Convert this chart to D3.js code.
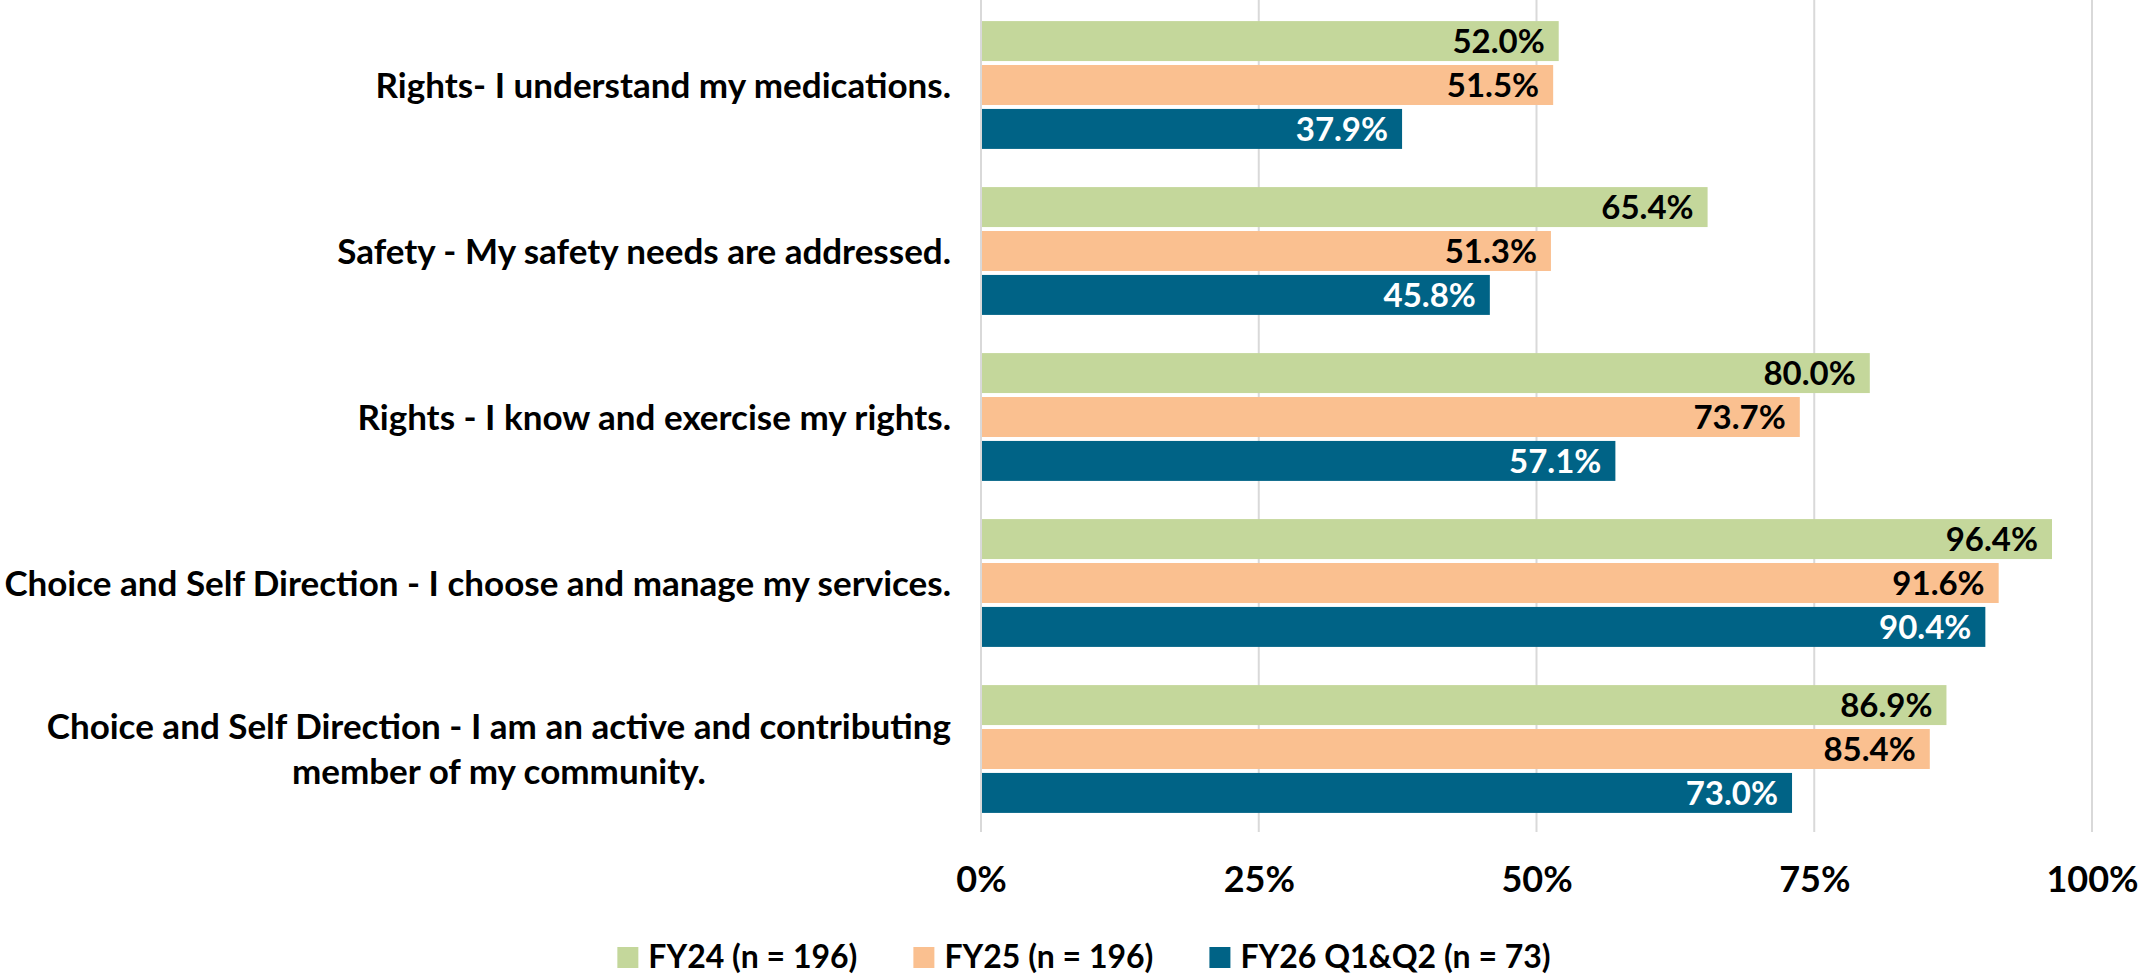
<!DOCTYPE html>
<html>
<head>
<meta charset="utf-8">
<script src="https://cdn.jsdelivr.net/npm/d3@7"></script>
<style>
  html, body { margin: 0; padding: 0; background: #fff; }
  #chart { width: 2139px; height: 976px; }
  text { font-family: Lato, "Open Sans", sans-serif; font-weight: bold; }
</style>
</head>
<body>
<div id="chart"></div>
<script>
const categories = [
  ["Rights- I understand my medications."],
  ["Safety - My safety needs are addressed."],
  ["Rights - I know and exercise my rights."],
  ["Choice and Self Direction - I choose and manage my services."],
  ["Choice and Self Direction - I am an active and contributing", "member of my community."]
];
const seriesNames = ["FY24 (n = 196)", "FY25 (n = 196)", "FY26 Q1&Q2 (n = 73)"];
const fy24 = [0.520, 0.654, 0.800, 0.964, 0.869];
const fy25 = [0.515, 0.513, 0.737, 0.916, 0.854];
const fy26 = [0.379, 0.458, 0.571, 0.904, 0.730];
const tickValues = [0, 0.25, 0.5, 0.75, 1];

const seriesValues = [fy24, fy25, fy26];
const colors = ["#C4D79B", "#FAC090", "#006386"];
const labelColors = ["#000", "#000", "#fff"];

const width = 2139, height = 976;

const svg = d3.select("#chart").append("svg")
  .attr("width", width)
  .attr("height", height)
  .attr("viewBox", [0, 0, width, height]);

const x = d3.scaleLinear().domain([0, 1]).range([981, 2092]);

const y0 = d3.scaleBand()
  .domain(d3.range(categories.length))
  .range([2, 832])
  .paddingInner(0.23)
  .paddingOuter(0.115);

const y1 = d3.scaleBand()
  .domain(d3.range(seriesNames.length))
  .range([0, y0.bandwidth()])
  .paddingInner(0.09);

// gridlines
svg.append("g")
  .selectAll("line")
  .data(tickValues)
  .join("line")
  .attr("x1", d => x(d))
  .attr("x2", d => x(d))
  .attr("y1", 0)
  .attr("y2", 832)
  .attr("stroke", "#d9d9d9")
  .attr("stroke-width", 2);

// bars
const rows = [];
categories.forEach((c, i) => {
  seriesValues.forEach((vals, s) => rows.push({ cat: i, s: s, v: vals[i] }));
});

const groups = svg.append("g");
groups.selectAll("rect")
  .data(rows)
  .join("rect")
  .attr("x", x(0) + 1)
  .attr("y", d => y0(d.cat) + y1(d.s))
  .attr("width", d => x(d.v) - x(0) - 1)
  .attr("height", y1.bandwidth())
  .attr("fill", d => colors[d.s]);

groups.selectAll("text")
  .data(rows)
  .join("text")
  .attr("x", d => x(d.v) - 14)
  .attr("y", d => y0(d.cat) + y1(d.s) + y1.bandwidth() / 2)
  .attr("dy", "0.36em")
  .attr("text-anchor", "end")
  .attr("font-size", 33)
  .attr("fill", d => labelColors[d.s])
  .text(d => d3.format(".1%")(d.v));

// x axis tick labels
const xAxis = d3.axisBottom(x)
  .tickValues(tickValues)
  .tickFormat(d3.format(".0%"))
  .tickSize(0)
  .tickPadding(0);

const ax = svg.append("g")
  .attr("transform", "translate(0,866)")
  .call(xAxis);
ax.select(".domain").remove();
ax.selectAll("text")
  .attr("font-size", 36)
  .attr("font-family", "Lato, sans-serif")
  .attr("font-weight", "bold")
  .attr("fill", "#000")
  .attr("dy", "0.72em");

// category labels
const labelRight = 951;
const catG = svg.append("g");
categories.forEach((lines, i) => {
  const cy = y0(i) + y0.bandwidth() / 2;
  if (lines.length === 1) {
    catG.append("text")
      .attr("x", labelRight)
      .attr("y", cy)
      .attr("dy", "0.36em")
      .attr("text-anchor", "end")
      .attr("font-size", 35)
      .text(lines[0]);
  } else {
    const t = catG.append("text")
      .attr("text-anchor", "middle")
      .attr("font-size", 35);
    const spans = lines.map((l, j) => t.append("tspan")
      .attr("y", cy + (j - (lines.length - 1) / 2) * 45)
      .attr("dy", "0.36em")
      .text(l));
    const w = d3.max(spans, s => s.node().getComputedTextLength());
    spans.forEach(s => s.attr("x", labelRight - w / 2));
  }
});

// legend
const legend = svg.append("g");
const items = seriesNames.map((name, i) => {
  const g = legend.append("g");
  g.append("rect")
    .attr("width", 21)
    .attr("height", 21)
    .attr("y", 947)
    .attr("fill", colors[i]);
  const t = g.append("text")
    .attr("x", 31)
    .attr("y", 956)
    .attr("dy", "0.36em")
    .attr("font-size", 32)
    .text(name);
  return { g: g, w: 31 + t.node().getComputedTextLength() };
});
const gap = 56;
const total = d3.sum(items, d => d.w) + gap * (items.length - 1);
let lx = 1084 - total / 2;
items.forEach(it => {
  it.g.attr("transform", `translate(${lx},0)`);
  lx += it.w + gap;
});
</script>
</body>
</html>
